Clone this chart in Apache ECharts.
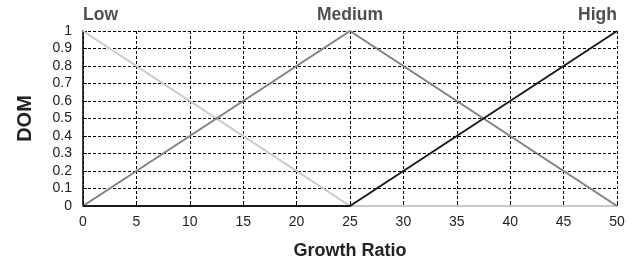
<!DOCTYPE html>
<html><head><meta charset="utf-8">
<script src="https://cdn.jsdelivr.net/npm/echarts@6/dist/echarts.min.js"></script>
<style>html,body{margin:0;padding:0;background:#fff}#c{width:643px;height:265px}</style>
</head><body><div id="c"></div>
<script>
const xValues = [0, 25, 50];
const low = [1, 0, 0];
const medium = [0, 1, 0];
const high = [0, 0, 1];
const setNames = ['Low', 'Medium', 'High'];
const setPeakX = [0, 25, 50];

const FONT = '"Liberation Sans", Arial, Helvetica, sans-serif';
const pairs = arr => xValues.map((x, i) => [x, arr[i]]);
const chart = echarts.init(document.getElementById('c'), null, {renderer: 'canvas'});
const aligns = ['left', 'center', 'right'];
chart.setOption({
  animation: false,
  textStyle: {fontFamily: FONT},
  grid: {left: 83, right: 26, top: 31, bottom: 59},
  xAxis: {
    type: 'value', min: 0, max: 50, interval: 5,
    name: 'Growth Ratio', nameLocation: 'middle', nameGap: 36,
    nameTextStyle: {fontFamily: FONT, fontWeight: 'bold', fontSize: 18, color: '#222'},
    axisLine: {show: false},
    axisTick: {show: true, inside: true, length: 4, lineStyle: {color: '#000'}},
    axisLabel: {fontFamily: FONT, fontSize: 14, color: '#222', margin: 9},
    splitLine: {show: true, lineStyle: {color: '#000', width: 1, type: [3, 2]}}
  },
  yAxis: {
    type: 'value', min: 0, max: 1, interval: 0.1,
    name: 'DOM', nameLocation: 'middle', nameGap: 48,
    nameTextStyle: {fontFamily: FONT, fontWeight: 'bold', fontSize: 20, color: '#222'},
    axisLine: {show: true, lineStyle: {color: '#000', width: 1.5}},
    axisTick: {show: true, inside: true, length: 4, lineStyle: {color: '#000'}},
    axisLabel: {fontFamily: FONT, fontSize: 14, color: '#222', margin: 11},
    splitLine: {show: true, lineStyle: {color: '#000', width: 1, type: [3, 2]}}
  },
  series: [
    {type: 'line', name: 'Low', data: pairs(low), symbol: 'none', lineStyle: {color: '#c8c8c8', width: 2}, z: 3},
    {type: 'line', name: 'Medium', data: pairs(medium), symbol: 'none', lineStyle: {color: '#7f7f7f', width: 2}, z: 4},
    {type: 'line', name: 'High', data: pairs(high), symbol: 'none', lineStyle: {color: '#1a1a1a', width: 2}, z: 5},
    {type: 'scatter', symbolSize: 0, silent: true, clip: false,
     data: setNames.map((n, i) => ({
       value: [setPeakX[i], 1], name: n,
       label: {show: true, position: 'top', distance: 7, align: aligns[i], formatter: n,
         fontFamily: FONT, fontWeight: 'bold', fontSize: 17.5, color: '#222'}
     }))}
  ]
});
</script></body></html>
